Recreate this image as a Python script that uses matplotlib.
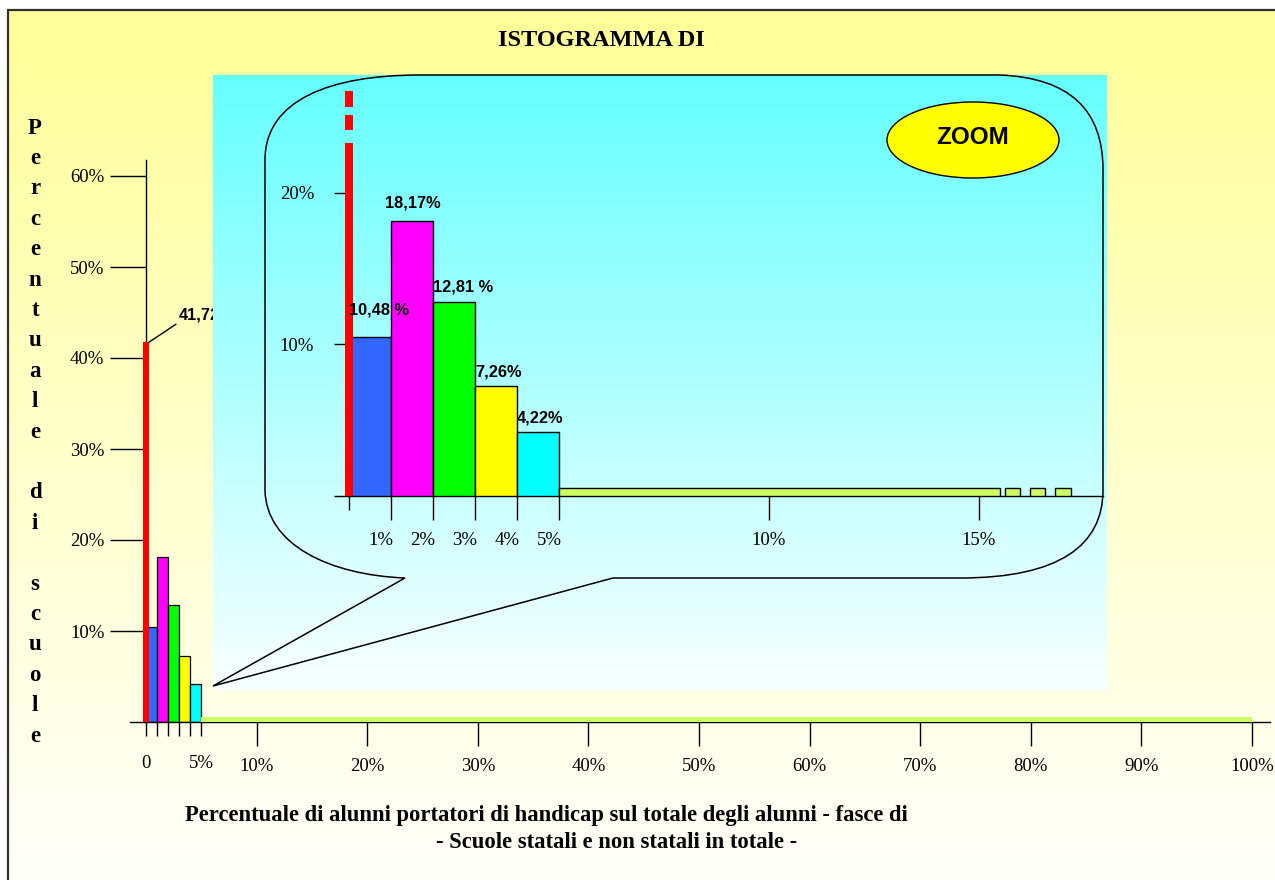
import numpy as np
import matplotlib
matplotlib.use('Agg')
import matplotlib.pyplot as plt
from matplotlib.path import Path
from matplotlib.patches import PathPatch, Ellipse
import matplotlib.transforms as mtransforms

# ---------------- data ----------------
bin_labels = ['0%', '0-1%', '1-2%', '2-3%', '3-4%', '4-5%', '>5%']
bin_left = [0, 0, 1, 2, 3, 4, 5]
bin_right = [0, 1, 2, 3, 4, 5, 100]
school_pct = [41.72, 10.48, 18.17, 12.81, 7.26, 4.22, 0.5]
value_labels = ['41,72%', '10,48 %', '18,17%', '12,81 %', '7,26%', '4,22%', '']
bar_colors = ['#FF0000', '#3366FF', '#FF00FF', '#00FF00', '#FFFF00', '#00FFFF', '#CCFF66']

main_xticks = [10, 20, 30, 40, 50, 60, 70, 80, 90, 100]
main_xticklabels = ['10%', '20%', '30%', '40%', '50%', '60%', '70%', '80%', '90%', '100%']
main_small_xticks = [0, 1, 2, 3, 4, 5]
main_small_xticklabels = ['0', '', '', '', '', '5%']
main_yticks = [10, 20, 30, 40, 50, 60]
main_yticklabels = ['10%', '20%', '30%', '40%', '50%', '60%']

zoom_xticks = [1, 2, 3, 4, 5, 10, 15]
zoom_xticklabels = ['1%', '2%', '3%', '4%', '5%', '10%', '15%']
zoom_yticks = [10, 20]
zoom_yticklabels = ['10%', '20%']

title_text = 'ISTOGRAMMA DI'
xlabel_lines = ['Percentuale di alunni portatori di handicap sul totale degli alunni - fasce di',
                '- Scuole statali e non statali in totale -']
ylabel_text = 'Percentuale di scuole'
zoom_text = 'ZOOM'

SERIF = ['Liberation Serif', 'DejaVu Serif']
SANS = ['Liberation Sans', 'DejaVu Sans']
TICK_FS = 13.5
LAB_FS = 11.8

# ---------------- figure ----------------
W, H = 1275, 880
fig = plt.figure(figsize=(W / 100, H / 100), dpi=100)


def axes_px(left, top, right, bottom, **kw):
    return fig.add_axes([left / W, 1 - bottom / H, (right - left) / W, (bottom - top) / H], **kw)


def vgrad(c_top, c_bot, n=256):
    t = np.linspace(0, 1, n)[:, None]
    a = np.array(c_top)[None, :] * (1 - t) + np.array(c_bot)[None, :] * t
    return a[:, None, :]


# background (yellow gradient + frame)
bg = fig.add_axes([0, 0, 1, 1], zorder=0)
bg.set_xlim(0, W)
bg.set_ylim(H, 0)
bg.axis('off')
bg.imshow(vgrad((1.0, 1.0, 0.60), (1.0, 1.0, 0.985)), extent=(8, W, H, 10),
          origin='upper', aspect='auto', interpolation='bilinear')
bg.plot([8, 8, W], [H, 10.5, 10.5], color='#303030', lw=1.6, solid_joinstyle='miter')

bg.text(601, 40, title_text, ha='center', va='center', fontsize=17.5,
        fontweight='bold', family=SERIF)
bg.text(546, 815, xlabel_lines[0], ha='center', va='center', fontsize=16.3,
        fontweight='bold', family=SERIF)
bg.text(617, 843, xlabel_lines[1], ha='center', va='center', fontsize=16.3,
        fontweight='bold', family=SERIF)
i = 0
for ch in ylabel_text:
    if ch != ' ':
        bg.text(35, 128 + 30.4 * i, ch, ha='center', va='center', fontsize=16.5,
                fontweight='bold', family=SERIF)
    i += 1

# ---------------- main histogram ----------------
px_per_x = 11.06
px_per_y = 9.1
x0_px, y0_px = 146, 722
ax = axes_px(130, 160, 1270, 722, zorder=2)
ax.patch.set_alpha(0)
ax.set_xlim((130 - x0_px) / px_per_x, (1270 - x0_px) / px_per_x)
ax.set_ylim(0, (y0_px - 160) / px_per_y)
for s in ('top', 'right'):
    ax.spines[s].set_visible(False)
ax.spines['left'].set_position(('data', 0))
ax.spines['left'].set_linewidth(1.0)
ax.spines['bottom'].set_linewidth(1.0)

for l, r, v, c in zip(bin_left, bin_right, school_pct, bar_colors):
    if r == l:
        ax.bar(l, v, width=0.55, align='center', color=c, lw=0, zorder=3, clip_on=False)
    elif r - l > 10:
        ax.bar(l, v, width=r - l, align='edge', color=c, lw=0, zorder=3)
    else:
        ax.bar(l, v, width=r - l, align='edge', color=c, ec='black', lw=0.9, zorder=2)

ax.annotate(value_labels[0], xy=(0.25, school_pct[0]), xytext=(30, 20),
            textcoords='offset pixels', ha='left', va='bottom', fontsize=LAB_FS,
            fontweight='bold', family=SANS,
            arrowprops=dict(arrowstyle='-', lw=1, color='black', shrinkA=0, shrinkB=0,
                            relpos=(0, 0)))

ax.set_xticks(main_xticks)
ax.set_xticklabels(main_xticklabels, family=SERIF, fontsize=TICK_FS)
ax.set_xticks(main_small_xticks, minor=True)
ax.set_xticklabels(main_small_xticklabels, minor=True, family=SERIF, fontsize=TICK_FS)
ax.tick_params(axis='x', which='major', length=17, width=1, pad=9)
ax.tick_params(axis='x', which='minor', length=10, width=1, pad=14)
ax.set_yticks(main_yticks)
ax.set_yticklabels(main_yticklabels, family=SERIF, fontsize=TICK_FS)
ax.tick_params(axis='y', length=26, width=1, pad=4)

# ---------------- overlay (zoom panel, bubble) ----------------
ov = fig.add_axes([0, 0, 1, 1], zorder=3)
ov.patch.set_alpha(0)
ov.imshow(vgrad((0.40, 1.0, 1.0), (0.975, 1.0, 1.0)), extent=(213, 1107, 690, 75),
          origin='upper', aspect='auto', interpolation='bilinear')
ov.set_xlim(0, W)
ov.set_ylim(H, 0)
ov.axis('off')

verts = [(405, 578),
         (330, 575), (266, 545), (265, 490),
         (265, 160),
         (265, 100), (330, 75), (420, 75),
         (1000, 75),
         (1070, 78), (1103, 110), (1103, 170),
         (1103, 490),
         (1103, 545), (1060, 578), (960, 578),
         (613, 578),
         (213, 686),
         (405, 578),
         (405, 578)]
codes = [Path.MOVETO,
         Path.CURVE4, Path.CURVE4, Path.CURVE4,
         Path.LINETO,
         Path.CURVE4, Path.CURVE4, Path.CURVE4,
         Path.LINETO,
         Path.CURVE4, Path.CURVE4, Path.CURVE4,
         Path.LINETO,
         Path.CURVE4, Path.CURVE4, Path.CURVE4,
         Path.LINETO,
         Path.LINETO,
         Path.LINETO,
         Path.CLOSEPOLY]
ov.add_patch(PathPatch(Path(verts, codes), fill=False, ec='black', lw=1.1))
ov.add_patch(Ellipse((973, 140), 172, 76, fc='#FFFF00', ec='black', lw=1))
ov.text(973, 137, zoom_text, ha='center', va='center', fontsize=17.5,
        fontweight='bold', family=SANS)

# ---------------- zoom axes ----------------
zx_px, zy_px = 42.0, 15.15
zx0, zy0 = 349, 496
az = axes_px(349, 80, 1103, 496, zorder=4)
az.patch.set_alpha(0)
az.set_xlim(0, (1103 - zx0) / zx_px)
az.set_ylim(0, (zy0 - 80) / zy_px)
for s in ('top', 'right', 'left'):
    az.spines[s].set_visible(False)
az.spines['bottom'].set_linewidth(1.0)

zoom_break_y = 23.3      # red bar is truncated (axis break)
zoom_break_x = 15.5      # ">5%" bar is truncated
for k, (l, r, v, c) in enumerate(zip(bin_left, bin_right, school_pct, bar_colors)):
    if r == l:
        az.bar(l, zoom_break_y, width=0.17, align='center', color=c, lw=0, zorder=4,
               clip_on=False)
        y = zoom_break_y + 0.85
        for _ in range(2):
            az.bar(l, 1.0, bottom=y, width=0.17, align='center', color=c, lw=0,
                   zorder=4, clip_on=False)
            y += 1.0 + 0.55
    elif r - l > 10:
        az.bar(l, v, width=zoom_break_x - l, align='edge', color=c, ec='black', lw=1,
               zorder=3)
        xs = zoom_break_x + 0.12
        for _ in range(3):
            az.bar(xs, v, width=0.36, align='edge', color=c, ec='black', lw=1, zorder=3)
            xs += 0.6
    else:
        az.bar(l, v, width=r - l, align='edge', color=c, ec='black', lw=1, zorder=3)
        lab = value_labels[k]
        extra = 20 if k == 1 else (10 if k == 2 else 7)
        dx = -6 if k == 2 else 0
        az.annotate(lab, xy=(l, v), xytext=(dx, extra), textcoords='offset pixels',
                    ha='left', va='bottom', fontsize=LAB_FS, fontweight='bold', family=SANS,
                    zorder=6)

az.set_xticks(zoom_xticks)
az.set_xticklabels(zoom_xticklabels, family=SERIF, fontsize=TICK_FS)
az.tick_params(axis='x', which='major', length=17, width=1, pad=9)
shift = mtransforms.ScaledTranslation(-10 / 100, 0, fig.dpi_scale_trans)
for lab in az.get_xticklabels()[:5]:
    lab.set_transform(lab.get_transform() + shift)
az.set_xticks([0], minor=True)
az.tick_params(axis='x', which='minor', length=10, width=1)
az.set_yticks([0] + zoom_yticks)
az.set_yticklabels([''] + zoom_yticklabels, family=SERIF, fontsize=TICK_FS)
az.tick_params(axis='y', length=11, width=1, pad=14)

fig.savefig('out.png', dpi=100)
